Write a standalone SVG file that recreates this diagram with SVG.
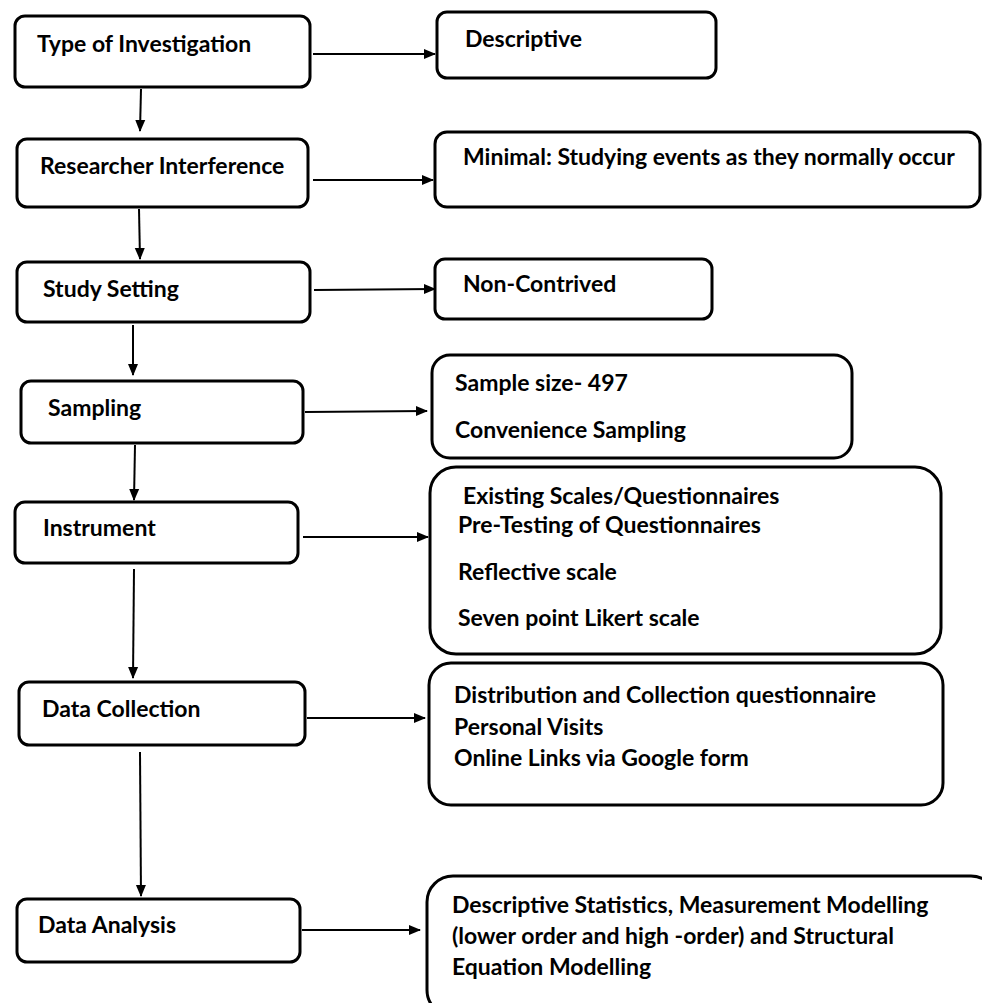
<svg xmlns="http://www.w3.org/2000/svg" width="982" height="1003" viewBox="0 0 982 1003">
<defs>
<style>
.box{fill:#fff;stroke:#000;stroke-width:3}
.t{font-family:Lato,"Liberation Sans",sans-serif;font-weight:bold;font-size:23px;fill:#000}
.c{stroke:#000;stroke-width:2;fill:none}
</style>
<marker id="ah" markerUnits="userSpaceOnUse" markerWidth="12" markerHeight="12" viewBox="0 0 12 12" refX="11" refY="6" orient="auto">
<path d="M0,1 L12,6 L0,11 Z" fill="#000"/>
</marker>
</defs>
<rect width="982" height="1003" fill="#fff"/>
<g id="connectors">
<line class="c" x1="141" y1="89" x2="140" y2="131" marker-end="url(#ah)"/>
<line class="c" x1="139" y1="209" x2="140" y2="259" marker-end="url(#ah)"/>
<line class="c" x1="133" y1="325" x2="133" y2="375" marker-end="url(#ah)"/>
<line class="c" x1="135" y1="445" x2="134" y2="500" marker-end="url(#ah)"/>
<line class="c" x1="134" y1="569" x2="133" y2="678" marker-end="url(#ah)"/>
<line class="c" x1="140" y1="752" x2="141" y2="896" marker-end="url(#ah)"/>
<line class="c" x1="313" y1="54" x2="435" y2="54" marker-end="url(#ah)"/>
<line class="c" x1="313" y1="180" x2="433" y2="180" marker-end="url(#ah)"/>
<line class="c" x1="314" y1="290" x2="435" y2="289" marker-end="url(#ah)"/>
<line class="c" x1="305" y1="412" x2="427" y2="411" marker-end="url(#ah)"/>
<line class="c" x1="303" y1="537" x2="428" y2="537" marker-end="url(#ah)"/>
<line class="c" x1="307" y1="718" x2="425" y2="718" marker-end="url(#ah)"/>
<line class="c" x1="302" y1="930" x2="420" y2="930" marker-end="url(#ah)"/>
</g>
<g id="n-type"><rect class="box" x="15" y="16" width="295" height="71" rx="10"/><text class="t" x="37" y="52">Type of Investigation</text></g>
<g id="n-descriptive"><rect class="box" x="437" y="12" width="279" height="66" rx="10"/><text class="t" x="465" y="47">Descriptive</text></g>
<g id="n-researcher"><rect class="box" x="17" y="139" width="291" height="68" rx="10"/><text class="t" x="40" y="174">Researcher Interference</text></g>
<g id="n-minimal"><rect class="box" x="435" y="132" width="545" height="75" rx="12"/><text class="t" x="463" y="165">Minimal: Studying events as they normally occur</text></g>
<g id="n-setting"><rect class="box" x="17" y="262" width="293" height="60" rx="10"/><text class="t" x="43" y="297">Study Setting</text></g>
<g id="n-noncontrived"><rect class="box" x="435" y="259" width="277" height="60" rx="10"/><text class="t" x="463" y="292">Non-Contrived</text></g>
<g id="n-sampling"><rect class="box" x="21" y="381" width="282" height="62" rx="10"/><text class="t" x="48" y="416">Sampling</text></g>
<g id="n-sample"><rect class="box" x="432" y="355" width="420" height="103" rx="18"/><text class="t" x="455" y="391">Sample size- 497</text><text class="t" x="455" y="438">Convenience Sampling</text></g>
<g id="n-instrument"><rect class="box" x="15" y="502" width="283" height="61" rx="10"/><text class="t" x="43" y="536">Instrument</text></g>
<g id="n-instrument-detail"><rect class="box" x="430" y="467" width="511" height="187" rx="26"/><text class="t" x="463" y="504">Existing Scales/Questionnaires</text><text class="t" x="458" y="533">Pre-Testing of Questionnaires</text><text class="t" x="458" y="580">Reflective scale</text><text class="t" x="458" y="626">Seven point Likert scale</text></g>
<g id="n-collection"><rect class="box" x="19" y="682" width="286" height="63" rx="10"/><text class="t" x="42" y="717">Data Collection</text></g>
<g id="n-collection-detail"><rect class="box" x="429" y="663" width="514" height="142" rx="22"/><text class="t" x="454" y="703">Distribution and Collection questionnaire</text><text class="t" x="454" y="735">Personal Visits</text><text class="t" x="454" y="766">Online Links via Google form</text></g>
<g id="n-analysis"><rect class="box" x="17" y="899" width="283" height="63" rx="10"/><text class="t" x="38" y="933">Data Analysis</text></g>
<g id="n-analysis-detail"><rect class="box" x="427" y="876" width="570" height="140" rx="26"/><text class="t" x="452" y="913">Descriptive Statistics, Measurement Modelling</text><text class="t" x="452" y="944">(lower order and high -order) and Structural</text><text class="t" x="452" y="975">Equation Modelling</text></g>
</svg>
